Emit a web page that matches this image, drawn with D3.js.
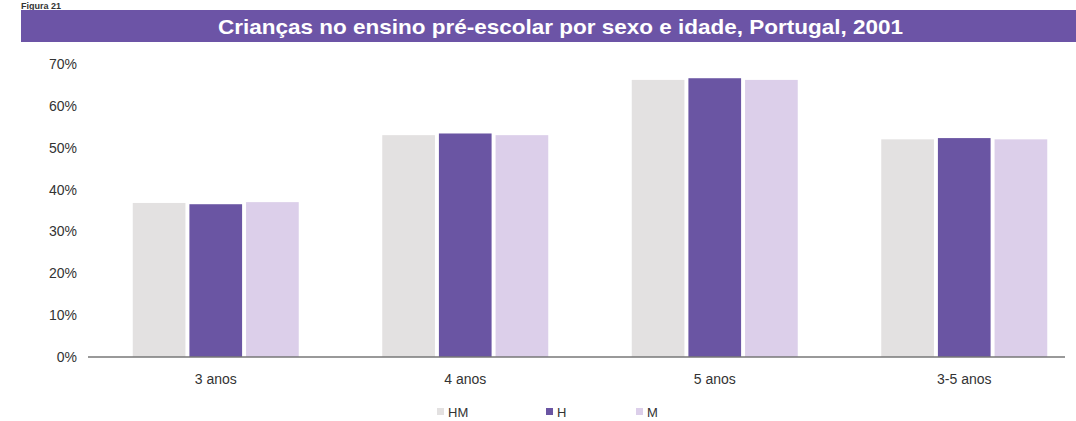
<!DOCTYPE html>
<html><head><meta charset="utf-8">
<script src="https://cdn.jsdelivr.net/npm/d3@7"></script>
<style>body{margin:0;background:#fff}svg{display:block}text{font-family:"Liberation Sans",Arial,sans-serif}</style>
</head><body>
<svg id="c" width="1076" height="421"></svg>
<script>
const categories = ["3 anos","4 anos","5 anos","3-5 anos"];
const seriesNames = ["HM","H","M"];
const HM = [36.8, 53.0, 66.2, 52.0];
const H  = [36.5, 53.4, 66.6, 52.3];
const M  = [37.0, 53.0, 66.2, 52.0];
const yTicks = [0,10,20,30,40,50,60,70];
const colors = ["#e3e1e1","#6a55a3","#dccfea"];
const title = "Crianças no ensino pré-escolar por sexo e idade, Portugal, 2001";

const svg = d3.select("#c");
const series = [HM,H,M];

// header
svg.append("text").attr("x",21).attr("y",8.5).attr("font-size",9).attr("font-weight","bold").attr("fill","#333").text("Figura 21");
svg.append("rect").attr("x",21).attr("y",10).attr("width",1055).attr("height",32).attr("fill","#6c54a6");
svg.append("text").attr("x",218).attr("y",33.5).attr("font-size",21).attr("font-weight","bold").attr("fill","#fff")
  .attr("textLength",685).attr("lengthAdjust","spacingAndGlyphs").text(title);

const y = d3.scaleLinear().domain([0,70]).range([357,64]);
const x0 = d3.scaleBand().domain(categories).range([91,1089]).paddingInner(0).paddingOuter(0);
const x1 = d3.scaleBand().domain(seriesNames).range([-83,83]).paddingInner(0.07);

const yAxis = d3.axisLeft(y).tickValues(yTicks).tickSize(0).tickPadding(11).tickFormat(d=>d+"%");
const gy = svg.append("g").attr("transform","translate(88,0)").call(yAxis);
gy.select(".domain").remove();
gy.selectAll("text").attr("font-size",14).attr("fill","#333").attr("font-family","Liberation Sans, Arial, sans-serif");

const groups = svg.append("g").selectAll("g").data(categories).join("g")
  .attr("transform",d=>`translate(${x0(d)+x0.bandwidth()/2},0)`);
groups.selectAll("rect").data((d,i)=>seriesNames.map((s,j)=>({s,v:series[j][i],j})))
  .join("rect")
  .attr("x",d=>x1(d.s)).attr("width",x1.bandwidth())
  .attr("y",d=>y(d.v)).attr("height",d=>y(0)-y(d.v))
  .attr("fill",d=>colors[d.j]);

svg.append("line").attr("x1",88).attr("x2",1065).attr("y1",y(0)).attr("y2",y(0)).attr("stroke","#777").attr("stroke-width",1.5);

const xAxis = d3.axisBottom(x0).tickSize(0).tickPadding(17);
const gx = svg.append("g").attr("transform",`translate(0,${y(0)})`).call(xAxis);
gx.select(".domain").remove();
gx.selectAll("text").attr("font-size",14).attr("fill","#333").attr("font-family","Liberation Sans, Arial, sans-serif");

// legend
const legX = [437,546,636];
const lg = svg.append("g").selectAll("g").data(seriesNames).join("g")
  .attr("transform",(d,i)=>`translate(${legX[i]},412)`);
lg.append("rect").attr("x",0).attr("y",-4).attr("width",7).attr("height",7).attr("fill",(d,i)=>colors[i]);
lg.append("text").attr("x",11).attr("y",5).attr("font-size",13).attr("fill","#333").text(d=>d);
</script>
</body></html>
